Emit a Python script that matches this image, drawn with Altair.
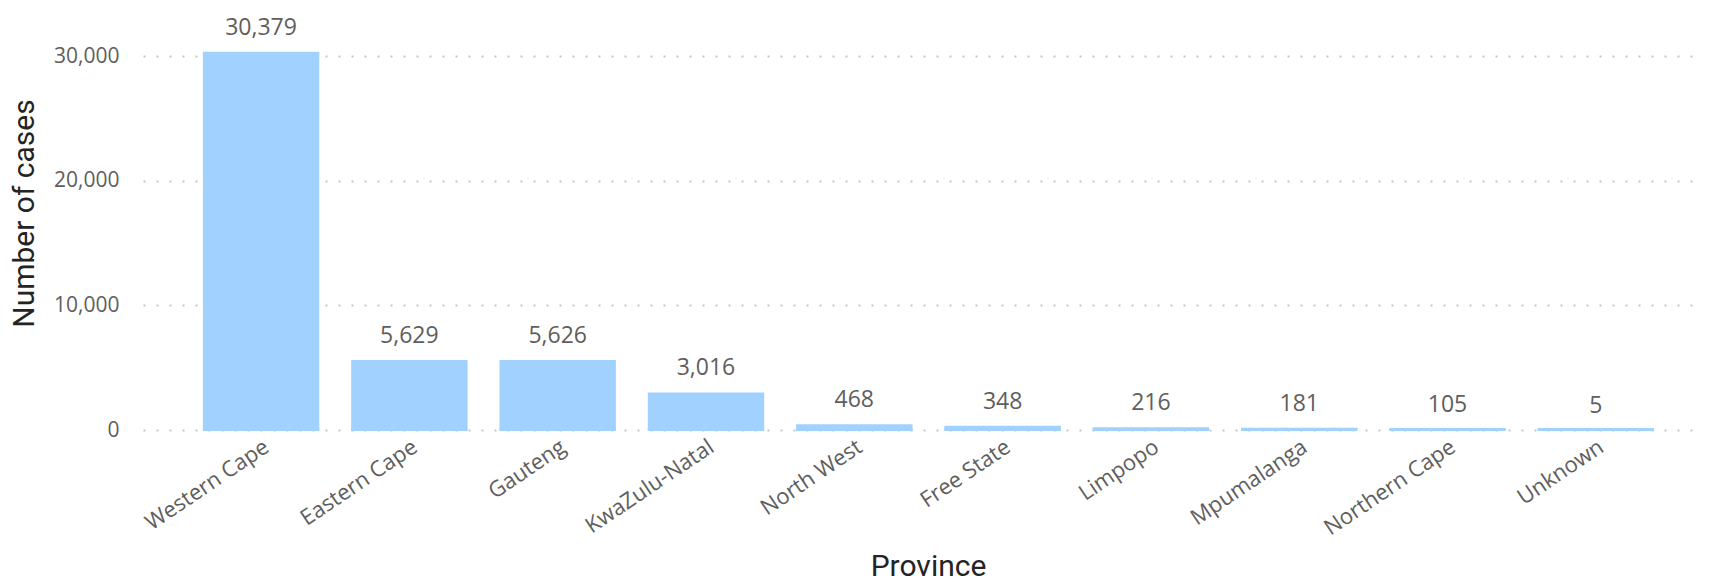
import altair as alt
import pandas as pd

provinces = ["Western Cape", "Eastern Cape", "Gauteng", "KwaZulu-Natal", "North West",
             "Free State", "Limpopo", "Mpumalanga", "Northern Cape", "Unknown"]
cases = [30379, 5629, 5626, 3016, 468, 348, 216, 181, 105, 5]
y_ticks = [0, 10000, 20000, 30000]

df = pd.DataFrame({"Province": provinces, "Cases": cases})

label_font = "Open Sans"
label_color = "#605E5C"
title_font = "Roboto"
title_color = "#252423"
bar_color = "#A0D1FF"

x_scale = alt.Scale(paddingInner=0.215, paddingOuter=0.367, align=0.55)

x_enc = alt.X(
    "Province:N",
    sort=provinces,
    scale=x_scale,
    axis=alt.Axis(
        title="Province",
        labelAngle=-34,
        labelFont=label_font,
        labelFontSize=22,
        labelColor=label_color,
        labelPadding=6,
        ticks=False,
        domain=False,
        grid=False,
        titleFont=title_font,
        titleFontSize=30,
        titleFontWeight="normal",
        titleColor=title_color,
        titleX=785,
        titleY=145,
        titleBaseline="alphabetic",
        titleAlign="center",
    ),
)

y_scale = alt.Scale(domain=[0, 33887], nice=False, zero=True)

bars = alt.Chart(df).mark_bar(color=bar_color).encode(
    x=x_enc,
    y=alt.Y(
        "Cases:Q",
        scale=y_scale,
        axis=alt.Axis(
            title="Number of cases",
            values=y_ticks,
            format=",d",
            labelFont=label_font,
            labelFontSize=21,
            labelColor=label_color,
            labelPadding=24,
            ticks=False,
            domain=False,
            grid=True,
            gridColor="#C8C6C4",
            gridDash=[2, 11],
            gridWidth=2,
            titleFont=title_font,
            titleFontSize=30,
            titleFontWeight="normal",
            titleColor=title_color,
            titleAngle=-90,
            titleX=-110,
            titleY=205,
            titleBaseline="alphabetic",
            titleAlign="center",
        ),
    ),
)

# minimum visible bar height, as in the reference
base = alt.Chart(df).mark_bar(color=bar_color, yOffset=1, y2Offset=-2).encode(
    x=alt.X("Province:N", sort=provinces, scale=x_scale),
    y=alt.datum(0, scale=y_scale) if False else alt.Y(datum=0),
    y2=alt.Y2(datum=0),
)

labels = alt.Chart(df).mark_text(
    font=label_font,
    fontSize=23,
    color=label_color,
    baseline="alphabetic",
    dy=-17,
).encode(
    x=alt.X("Province:N", sort=provinces),
    y=alt.Y("Cases:Q", scale=y_scale),
    text=alt.Text("Cases:Q", format=",d"),
)

chart = (bars + base + labels).properties(
    width=1560,
    height=422,
    background="white",
    autosize=alt.AutoSizeParams(type="none"),
    padding={"left": 143, "top": 8, "right": 9, "bottom": 152},
).configure_view(strokeWidth=0)

chart.save("out.html", embed_options={"renderer": "svg", "actions": False})
